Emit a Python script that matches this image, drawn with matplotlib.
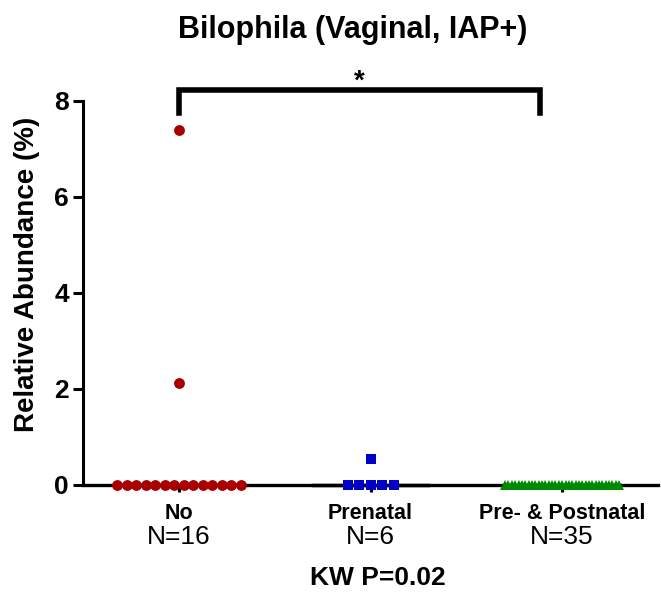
import numpy as np
import matplotlib

matplotlib.use("Agg")

import matplotlib.pyplot as plt
import matplotlib.transforms as mtransforms

plt.rcParams["font.family"] = ["Liberation Sans", "DejaVu Sans"]

# data
categories = ["No", "Prenatal", "Pre- & Postnatal"]
counts = ["N=16", "N=6", "N=35"]
no_iap = [7.4, 2.13, 0, 0, 0, 0, 0, 0, 0, 0, 0, 0, 0, 0, 0, 0]
prenatal = [0.55, 0, 0, 0, 0, 0]
pre_post = [0] * 35
groups = [no_iap, prenatal, pre_post]
colors = ["#A80000", "#0000C8", "#008A00"]
markers = ["o", "s", "^"]
sizes = [7.8, 7.0, 7.0]
steps = [0.0496, 0.06, 0.0175]
y_ticks = [0, 2, 4, 6, 8]
title = "Bilophila (Vaginal, IAP+)"
kw_text = "KW P=0.02"


def swarm_x(values, center, step):
    values = np.asarray(values, dtype=float)
    xs = np.full(len(values), float(center))
    for v in np.unique(values):
        idx = np.where(values == v)[0]
        n = len(idx)
        xs[idx] = center + (np.arange(n) - (n - 1) / 2.0) * step
    return xs


fig = plt.figure(figsize=(6.61, 5.93), dpi=100)
W, H = 661, 593
ax = fig.add_axes([83 / W, 1 - 485 / H, (658 - 83) / W, (485 - 101) / H])

for i, vals in enumerate(groups):
    xs = swarm_x(vals, i, steps[i])
    ax.plot(xs, vals, linestyle="none", marker=markers[i], color=colors[i],
            markersize=sizes[i], markeredgewidth=0, clip_on=False, zorder=3)
    med = np.median(vals)
    ax.plot([i - 0.3, i + 0.3], [med, med], color="black", lw=2.5,
            clip_on=False, zorder=2)

ax.set_xlim(-0.5, 2.5)
ax.set_ylim(0, 8)
ax.set_yticks(y_ticks)
ax.set_yticklabels([str(t) for t in y_ticks], fontsize=19, fontweight="bold")
ax.set_xticks(range(len(categories)))
ax.set_xticklabels(categories, fontsize=15.5, fontweight="bold")
ax.tick_params(axis="y", length=7, width=2.2, pad=3)
ax.tick_params(axis="x", length=5, width=2.2, pad=8)

for side in ["top", "right"]:
    ax.spines[side].set_visible(False)
ax.spines["left"].set_linewidth(2.2)
ax.spines["bottom"].set_linewidth(2.4)

trans = mtransforms.blended_transform_factory(ax.transData, fig.transFigure)
for i, c in enumerate(counts):
    ax.text(i, 1 - 537 / H, c, transform=trans, ha="center", va="center",
            fontsize=19)

fig.text(378 / W, 1 - 578 / H, kw_text, ha="center", va="center",
         fontsize=19, fontweight="bold")
fig.text(353 / W, 1 - 30 / H, title, ha="center", va="center",
         fontsize=22, fontweight="bold")
fig.text(27 / W, 1 - 274 / H, "Relative Abundance (%)", rotation=90,
         ha="center", va="center", fontsize=20, fontweight="bold")

# significance bracket
bx0, bx1 = 0, 1.885
ax.plot([bx0, bx0, bx1, bx1], [7.75, 8.23, 8.23, 7.75], color="black",
        lw=4, clip_on=False, solid_joinstyle="miter")
ax.text((bx0 + bx1) / 2, 8.4, "*", ha="center", va="center",
        fontsize=20, fontweight="bold")

fig.savefig("out.png", dpi=100)
